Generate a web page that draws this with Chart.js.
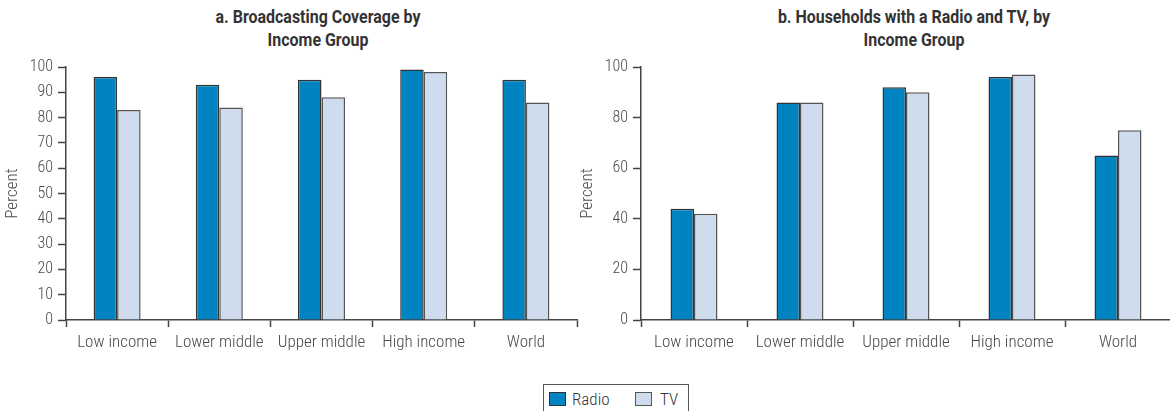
<!DOCTYPE html>
<html>
<head>
<meta charset="utf-8">
<script src="https://cdn.jsdelivr.net/npm/chart.js@4/dist/chart.umd.min.js"></script>
<style>
  html, body { margin: 0; padding: 0; background: #fff; width: 1170px; height: 411px; overflow: hidden; position: relative; }
  .title { position: absolute; top: 5px; width: 400px; text-align: center; font-family: "Roboto", sans-serif; font-weight: bold; font-size: 19px; line-height: 23px; color: #333; transform: scaleX(0.84); transform-origin: 50% 0; }
  .box { position: absolute; }
  #legend { position: absolute; left: 543px; top: 384px; width: 146px; height: 40px; border: 1px solid #555; box-sizing: border-box; font-family: "Roboto Condensed", "Roboto", sans-serif; font-weight: 300; font-size: 17px; color: #333; }
  .sw { position: absolute; top: 7px; width: 15px; height: 12px; border: 1.5px solid #333; }
  .lt { position: absolute; top: 3px; line-height: 22px; }
</style>
</head>
<body>
<div class="title" style="left:118px">a. Broadcasting Coverage by<br>Income Group</div>
<div class="title" style="left:714px">b. Households with a Radio and TV, by<br>Income Group</div>
<div class="box" style="left:0;top:0;width:580px;height:380px"><canvas id="chartA"></canvas></div>
<div class="box" style="left:575px;top:0;width:615px;height:380px"><canvas id="chartB"></canvas></div>
<div id="legend">
  <div class="sw" style="left:5px;background:#0083c1"></div><div class="lt" style="left:28px">Radio</div>
  <div class="sw" style="left:91px;background:#cfdcee;border-color:#555"></div><div class="lt" style="left:116px">TV</div>
</div>
<script>
// Income groups shared by both panels
const categories = ['Low income', 'Lower middle', 'Upper middle', 'High income', 'World'];

// Panel a: broadcasting coverage (percent)
const coverageRadio = [96, 93, 95, 99, 95];
const coverageTV = [83, 84, 88, 98, 86];
const coverageTicks = [0, 10, 20, 30, 40, 50, 60, 70, 80, 90, 100];

// Panel b: households owning a radio / TV (percent)
const householdsRadio = [44, 86, 92, 96, 65];
const householdsTV = [42, 86, 90, 97, 75];
const householdsTicks = [0, 20, 40, 60, 80, 100];

const FONT = '"Roboto Condensed", "Roboto", sans-serif';
const RADIO_FILL = '#0083c1';
const TV_FILL = '#cfdcee';
const AXIS = '#444';
const TEXT = '#4a4a4a';

function makeChart(id, radio, tv, ticks, catPct, padRight) {
  return new Chart(document.getElementById(id), {
    type: 'bar',
    data: {
      labels: categories,
      datasets: [
        { label: 'Radio', data: radio, backgroundColor: RADIO_FILL, borderColor: '#333', borderWidth: 1.5, borderSkipped: 'bottom' },
        { label: 'TV', data: tv, backgroundColor: TV_FILL, borderColor: '#555', borderWidth: 1.5, borderSkipped: 'bottom' }
      ]
    },
    options: {
      responsive: true,
      maintainAspectRatio: false,
      animation: false,
      datasets: { bar: { barPercentage: 1, categoryPercentage: catPct } },
      layout: { padding: { top: 67, right: padRight, bottom: 0, left: 0 } },
      plugins: { legend: { display: false }, title: { display: false }, tooltip: { enabled: false } },
      scales: {
        x: {
          offset: true,
          grid: { display: true, offset: true, drawOnChartArea: false, tickLength: 7, tickColor: AXIS, tickWidth: 1.5 },
          border: { display: true, color: AXIS, width: 1.5 },
          ticks: { color: TEXT, font: { family: FONT, size: 17, weight: '300' }, padding: 6, maxRotation: 0, autoSkip: false },
          afterFit: s => { s.height = 60; }
        },
        y: {
          min: 0, max: 100,
          afterBuildTicks: s => { s.ticks = ticks.map(v => ({ value: v })); },
          grid: { display: true, drawOnChartArea: false, tickLength: 8, tickColor: AXIS, tickWidth: 1.5 },
          border: { display: true, color: AXIS, width: 1.5 },
          ticks: { color: TEXT, font: { family: FONT, size: 16, weight: '300' }, padding: 5 },
          title: { display: true, text: 'Percent', color: TEXT, font: { family: FONT, size: 17, weight: '300' }, padding: { top: 3, bottom: 0 } },
          afterFit: s => { s.width = 66; }
        }
      }
    }
  });
}

makeChart('chartA', coverageRadio, coverageTV, coverageTicks, 0.46, 3);
makeChart('chartB', householdsRadio, householdsTV, householdsTicks, 0.443, 19);
</script>
</body>
</html>
